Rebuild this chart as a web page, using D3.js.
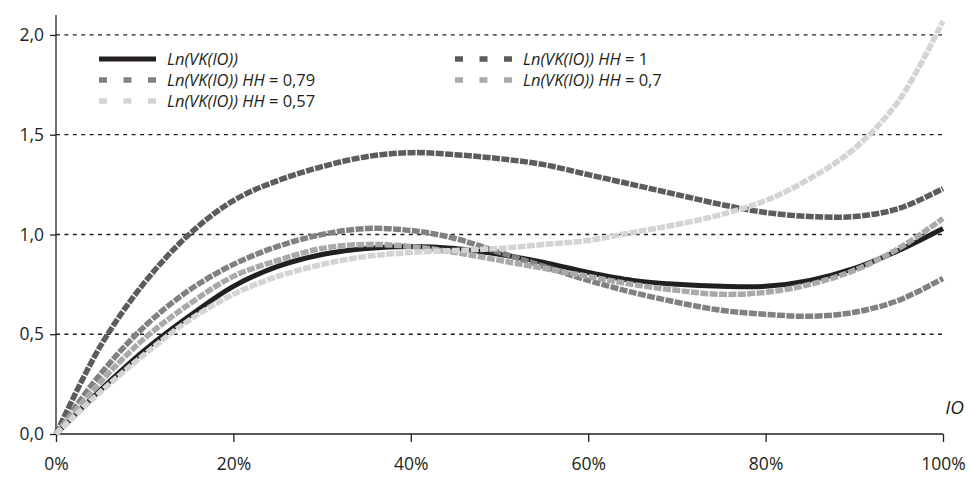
<!DOCTYPE html>
<html>
<head>
<meta charset="utf-8">
<script src="https://cdn.jsdelivr.net/npm/d3@7"></script>
<style>
  body { margin: 0; background: #fff; }
  svg text { font-family: "Open Sans", sans-serif; fill: #231f20; }
</style>
</head>
<body>
<div class="chart"></div>
<script>
// x values (share of IO, %)
var ioPct = [0, 5, 10, 15, 20, 25, 30, 35, 40, 45, 50, 55, 60, 65, 70, 75, 80, 85, 90, 95, 100];

// series
var lnVK      = [0, 0.22, 0.42, 0.59, 0.74, 0.84, 0.90, 0.93, 0.94, 0.93, 0.90, 0.86, 0.81, 0.77, 0.75, 0.74, 0.74, 0.77, 0.83, 0.92, 1.03];
var lnVK_1    = [0, 0.44, 0.76, 1.00, 1.17, 1.27, 1.34, 1.39, 1.41, 1.40, 1.38, 1.35, 1.30, 1.25, 1.20, 1.15, 1.11, 1.09, 1.09, 1.13, 1.23];
var lnVK_079  = [0, 0.30, 0.54, 0.72, 0.85, 0.94, 1.00, 1.03, 1.02, 0.98, 0.91, 0.84, 0.77, 0.71, 0.66, 0.62, 0.60, 0.59, 0.61, 0.67, 0.78];
var lnVK_07   = [0, 0.26, 0.48, 0.65, 0.79, 0.87, 0.93, 0.95, 0.94, 0.91, 0.87, 0.83, 0.79, 0.75, 0.72, 0.70, 0.71, 0.75, 0.82, 0.93, 1.08];
var lnVK_057  = [0, 0.21, 0.40, 0.57, 0.70, 0.79, 0.85, 0.89, 0.91, 0.92, 0.93, 0.95, 0.97, 1.01, 1.05, 1.10, 1.17, 1.28, 1.43, 1.67, 2.07];

var yTicks = [0, 0.5, 1.0, 1.5, 2.0];
var xTicks = [0, 20, 40, 60, 80, 100];

var seriesNames = ["Ln(VK(IO))", "Ln(VK(IO)) HH", "Ln(VK(IO)) HH", "Ln(VK(IO)) HH", "Ln(VK(IO)) HH"];
var seriesHH = ["", " = 1", " = 0,79", " = 0,7", " = 0,57"];
var seriesColors = ["#231f20", "#5c5c5c", "#818181", "#a9a9a9", "#d4d4d4"];

var series = [lnVK, lnVK_1, lnVK_079, lnVK_07, lnVK_057].map(function(vals, i) {
  return { name: seriesNames[i], hh: seriesHH[i], color: seriesColors[i], dashed: i > 0,
           values: vals.map(function(v, j) { return [ioPct[j], v]; }) };
});

var width = 971, height = 477;
var margin = { top: 15, right: 28, bottom: 43, left: 56 };

var svg = d3.select(".chart").append("svg")
    .attr("width", width)
    .attr("height", height);

var x = d3.scaleLinear().domain([0, 100]).range([margin.left, width - margin.right]);
var y = d3.scaleLinear().domain([0, 2.1]).range([height - margin.bottom, margin.top]);

// gridlines
svg.append("g").selectAll("line")
  .data(yTicks.filter(function(d) { return d > 0; }))
  .enter().append("line")
    .attr("x1", x(0)).attr("x2", x(100))
    .attr("y1", function(d) { return y(d); })
    .attr("y2", function(d) { return y(d); })
    .style("stroke", "#231f20")
    .style("stroke-width", 1.3)
    .style("stroke-dasharray", "4,4.4");

// y axis
var yAxis = d3.axisLeft(y).tickValues(yTicks).tickSize(6).tickPadding(6)
  .tickFormat(function(d) { return d3.format(".1f")(d).replace(".", ","); });
var gy = svg.append("g").attr("transform", "translate(" + x(0) + ",0)").call(yAxis);
gy.select(".domain").attr("d", "M0," + y(0) + "V" + margin.top);

// x axis
var xAxis = d3.axisBottom(x).tickValues(xTicks).tickSize(8).tickPadding(16)
  .tickFormat(function(d) { return d + "%"; });
var gx = svg.append("g").attr("transform", "translate(0," + y(0) + ")").call(xAxis);
gx.select(".domain").attr("d", "M" + x(0) + ",0H" + x(100));

[gx, gy].forEach(function(g) {
  g.selectAll(".domain, line").style("stroke", "#231f20").style("stroke-width", 1.3);
  g.selectAll("text").style("font-size", "17.5px").style("fill", "#231f20");
});

// axis title
svg.append("text")
  .attr("x", 964).attr("y", 414)
  .attr("text-anchor", "end")
  .style("font-size", "19px")
  .style("font-style", "italic")
  .text("IO");

// curves
var line = d3.line()
  .x(function(d) { return x(d[0]); })
  .y(function(d) { return y(d[1]); })
  .curve(d3.curveCatmullRom.alpha(0.5));

svg.append("g").selectAll("path")
  .data(series)
  .enter().append("path")
    .attr("d", function(d) { return line(d.values); })
    .style("fill", "none")
    .style("stroke", function(d) { return d.color; })
    .style("stroke-width", function(d) { return d.dashed ? 5.5 : 5; })
    .style("stroke-dasharray", function(d) { return d.dashed ? "8,1.4" : null; });

// legend: two columns, filled row by row
var legendCols = [99, 455];
var legendRows = [59, 80, 101];
var legend = svg.append("g").selectAll("g")
  .data(series)
  .enter().append("g")
    .attr("transform", function(d, i) {
      return "translate(" + legendCols[i % 2] + "," + legendRows[Math.floor(i / 2)] + ")";
    });

legend.append("line")
  .attr("x1", 0).attr("x2", 57)
  .style("stroke", function(d) { return d.color; })
  .style("stroke-width", function(d) { return d.dashed ? 5.5 : 5; })
  .style("stroke-dasharray", function(d) { return d.dashed ? "8,16.5" : null; });

var lt = legend.append("text")
  .attr("x", 68).attr("dy", "0.35em")
  .style("font-size", "16.5px");
lt.append("tspan").style("font-style", "italic").text(function(d) { return d.name; });
lt.append("tspan").text(function(d) { return d.hh; });
</script>
</body>
</html>
